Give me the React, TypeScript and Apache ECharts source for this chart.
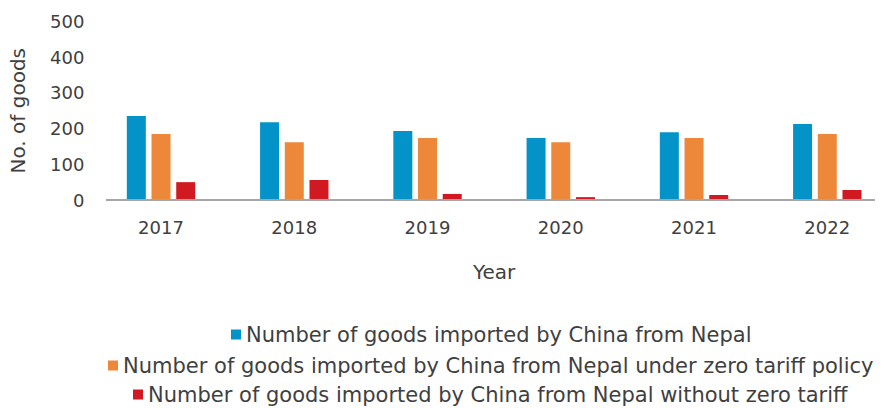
import React, { useEffect, useRef } from "react";
import * as echarts from "echarts";

const years = ["2017", "2018", "2019", "2020", "2021", "2022"];
const totalGoods = [235, 218, 193, 174, 190, 213];
const zeroTariffGoods = [185, 162, 174, 162, 174, 185];
const withoutZeroTariff = [50, 56, 17, 8, 14, 28];
const seriesNames = [
  "Number of goods imported by China from Nepal",
  "Number of goods imported by China from Nepal under zero tariff policy",
  "Number of goods imported by China from Nepal without zero tariff",
];
const colors = ["#0393C9", "#ED8739", "#D11921"];

const FONT = "DejaVu Sans";
const TEXT = "#404040";

export default function App() {
  const ref = useRef<HTMLDivElement>(null);
  useEffect(() => {
    if (!ref.current) return;
    const chart = echarts.init(ref.current, null, { renderer: "svg" });
    const legendTops = [319, 350, 379];
    const legendLefts = [226, 103, 128];
    chart.setOption({
      animation: false,
      textStyle: { fontFamily: FONT, color: TEXT },
      grid: {
        left: 94.4,
        width: 799.5,
        top: 21.5,
        height: 178.5,
        containLabel: false,
        outerBoundsMode: "none",
      },
      legend: seriesNames.map((n, i) => ({
        data: [n],
        left: legendLefts[i],
        top: legendTops[i],
        icon: "rect",
        itemWidth: 10,
        itemHeight: 10,
        selectedMode: false,
        textStyle: { fontFamily: FONT, fontSize: 21, color: TEXT },
      })),
      xAxis: {
        type: "category",
        data: years,
        name: "Year",
        nameLocation: "middle",
        nameGap: 62,
        nameTextStyle: { fontFamily: FONT, fontSize: 20, color: TEXT },
        axisLine: { show: false },
        axisTick: { show: false },
        axisLabel: { fontFamily: FONT, fontSize: 18, color: TEXT, margin: 18 },
      },
      yAxis: {
        type: "value",
        min: 0,
        max: 500,
        interval: 100,
        name: "No. of goods",
        nameLocation: "middle",
        nameRotate: 90,
        nameGap: 66,
        nameTextStyle: { fontFamily: FONT, fontSize: 20, color: TEXT },
        splitLine: { show: false },
        axisLine: { show: false },
        axisTick: { show: false },
        axisLabel: { fontFamily: FONT, fontSize: 18, color: TEXT, margin: 10 },
      },
      graphic: [
        {
          type: "line",
          shape: { x1: 106, y1: 200, x2: 875, y2: 200 },
          style: { stroke: "#A6A6A6", lineWidth: 2 },
          z: 10,
        },
      ],
      series: [totalGoods, zeroTariffGoods, withoutZeroTariff].map((d, i) => ({
        type: "bar",
        name: seriesNames[i],
        data: d,
        barWidth: 19,
        barGap: "30%",
        itemStyle: { color: colors[i] },
      })),
    });
    return () => chart.dispose();
  }, []);
  return (
    <div
      ref={ref}
      style={{ position: "fixed", left: 0, top: 0, width: 884, height: 408, background: "#fff" }}
    />
  );
}
